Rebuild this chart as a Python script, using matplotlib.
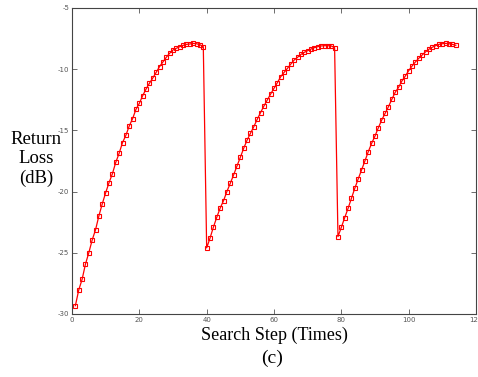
import matplotlib
matplotlib.use("Agg")
import matplotlib.pyplot as plt

plt.rcParams["axes.unicode_minus"] = False

# Search step index and return loss (dB)
steps = list(range(1, 115))
return_loss = [
    # segment 1 (steps 1-39)
    -29.32, -28.04, -27.17, -25.92, -24.99, -23.95, -23.11, -21.97, -20.99, -20.09,
    -19.27, -18.54, -17.61, -16.87, -16.00, -15.40, -14.64, -14.04, -13.28, -12.79,
    -12.16, -11.62, -11.15, -10.72, -10.26, -9.79, -9.41, -9.03, -8.70, -8.43,
    -8.29, -8.16, -8.05, -7.97, -7.94, -7.89, -7.92, -8.00, -8.16,
    # segment 2 (steps 40-78)
    -24.60, -23.80, -22.90, -22.10, -21.35, -20.75, -20.00, -19.33, -18.64, -17.91,
    -17.20, -16.46, -15.80, -15.24, -14.70, -14.10, -13.55, -13.01, -12.52, -12.03,
    -11.56, -11.10, -10.61, -10.26, -9.93, -9.58, -9.25, -9.03, -8.79, -8.62,
    -8.49, -8.35, -8.24, -8.16, -8.10, -8.08, -8.08, -8.10, -8.24,
    # segment 3 (steps 79-114)
    -23.68, -22.92, -22.13, -21.37, -20.55, -19.73, -18.97, -18.24, -17.50, -16.74,
    -16.06, -15.46, -14.78, -14.15, -13.61, -13.06, -12.46, -11.89, -11.48, -10.96,
    -10.56, -10.12, -9.74, -9.41, -9.11, -8.84, -8.59, -8.37, -8.21, -8.08,
    -7.97, -7.92, -7.89, -7.92, -7.97, -8.05,
]
xticks = [0, 20, 40, 60, 80, 100, 120]
yticks = [-30, -25, -20, -15, -10, -5]

fig = plt.figure(figsize=(4.78, 3.77), dpi=100)
ax = fig.add_axes([72/478, 1-314/377, (476-72)/478, (314-8)/377])

ax.plot(steps, return_loss, color="#ff0000", linewidth=0.9,
        marker="s", markersize=3.2, markerfacecolor="none",
        markeredgecolor="#ff0000", markeredgewidth=0.8)

ax.set_xlim(0, 120)
ax.set_ylim(-30, -5)
ax.set_xticks(xticks)
ax.set_yticks(yticks)
ax.tick_params(direction="in", length=3.5, width=0.6, labelsize=5,
               colors="#555555", top=True, right=True, pad=2)
for s in ax.spines.values():
    s.set_linewidth(0.8)
    s.set_color("#444444")

serif = ["Liberation Serif", "DejaVu Serif"]
fig.text(36/478, 1-159/377, "Return\nLoss\n(dB)", ha="center", va="center",
         fontsize=13.5, family=serif, linespacing=1.2)
fig.text(274/478, 1-335/377, "Search Step (Times)", ha="center", va="center",
         fontsize=13, family=serif)
fig.text(272/478, 1-358/377, "(c)", ha="center", va="center",
         fontsize=14, family=serif)

fig.savefig("out.png", dpi=100)
